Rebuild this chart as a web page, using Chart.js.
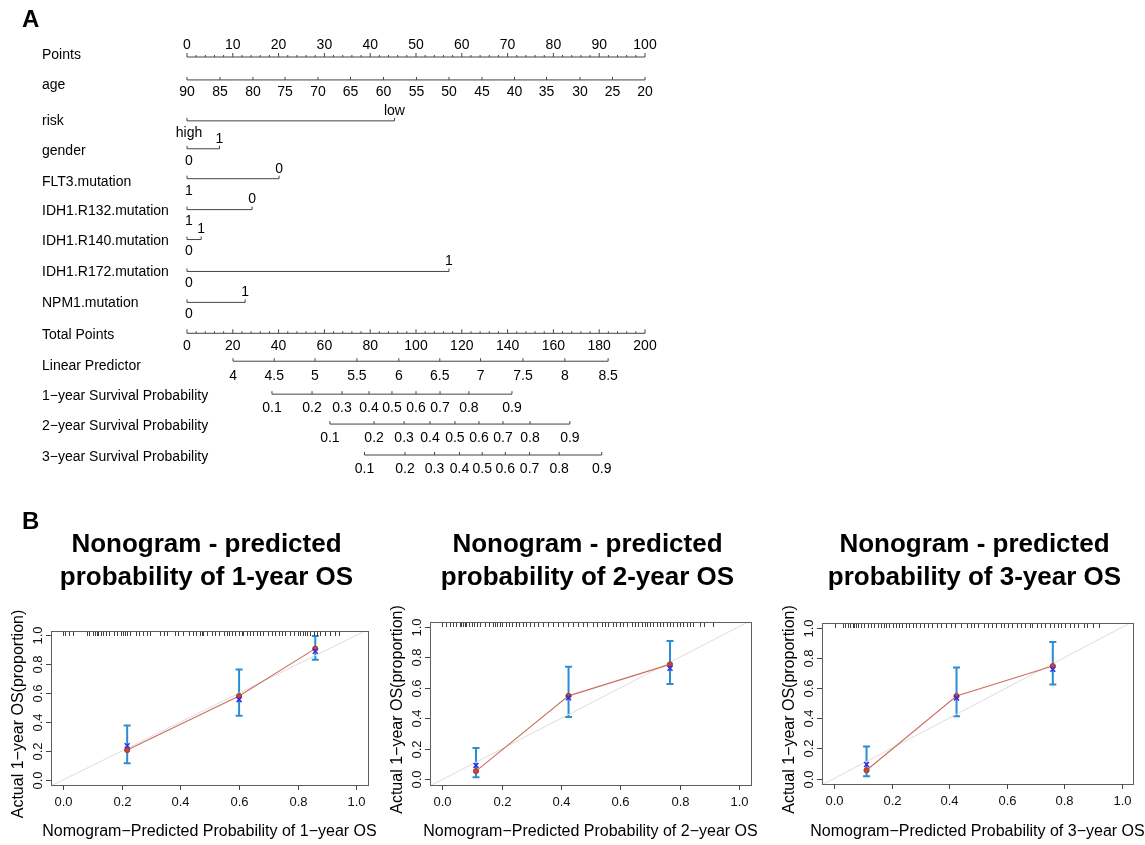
<!DOCTYPE html>
<html>
<head>
<meta charset="utf-8">
<script src="https://cdn.jsdelivr.net/npm/chart.js@4.4.1/dist/chart.umd.min.js"></script>
<style>
  html, body { margin: 0; background: #fff; }
  body { width: 1145px; height: 845px; overflow: hidden; position: relative; }
  canvas { position: absolute; }
</style>
</head>
<body>
<canvas id="nomo" width="1145" height="490" style="left:0px;top:0px"></canvas>
<canvas id="cal1" width="382" height="355" style="left:0px;top:490px"></canvas>
<canvas id="cal2" width="380" height="355" style="left:382px;top:490px"></canvas>
<canvas id="cal3" width="383" height="355" style="left:762px;top:490px"></canvas>
<script>
// ---- panel A: nomogram ----
const rowNames = ["Points", "age", "risk", "gender", "FLT3.mutation", "IDH1.R132.mutation",
  "IDH1.R140.mutation", "IDH1.R172.mutation", "NPM1.mutation", "Total Points", "Linear Predictor",
  "1\u2212year Survival Probability", "2\u2212year Survival Probability", "3\u2212year Survival Probability"];

const pointsTicks = [0, 10, 20, 30, 40, 50, 60, 70, 80, 90, 100];
const ageTicks = [90, 85, 80, 75, 70, 65, 60, 55, 50, 45, 40, 35, 30, 25, 20];
const agePoints = [0, 7.2, 14.4, 21.4, 28.6, 35.7, 42.9, 50.1, 57.2, 64.4, 71.5, 78.5, 85.8, 92.9, 100];

const riskLevels = ["high", "low"];  const riskPoints = [0, 45.3];
const genderLevels = ["0", "1"];     const genderPoints = [0, 7.1];
const flt3Levels = ["1", "0"];       const flt3Points = [0, 20.1];
const r132Levels = ["1", "0"];       const r132Points = [0, 14.2];
const r140Levels = ["0", "1"];       const r140Points = [0, 3.1];
const r172Levels = ["0", "1"];       const r172Points = [0, 57.2];
const npm1Levels = ["0", "1"];       const npm1Points = [0, 12.7];

const totalTicks = [0, 20, 40, 60, 80, 100, 120, 140, 160, 180, 200];
const lpTicks = ["4", "4.5", "5", "5.5", "6", "6.5", "7", "7.5", "8", "8.5"];
const lpTotal = [20.1, 38.1, 55.9, 74.2, 92.5, 110.4, 128.2, 146.7, 165.0, 183.9];
const survTicks = ["0.1", "0.2", "0.3", "0.4", "0.5", "0.6", "0.7", "0.8", "0.9"];
const surv1Total = [37.1, 54.6, 67.7, 79.5, 89.5, 100.0, 110.5, 123.1, 141.9];
const surv2Total = [62.4, 81.7, 94.8, 106.1, 117.0, 127.5, 138.0, 149.8, 167.2];
const surv3Total = [77.5, 95.2, 108.1, 119.0, 128.9, 139.0, 149.6, 162.5, 181.1];

// ---- panel B: calibration curves ----
const cal1Pred = [0.218, 0.600, 0.860];
const cal1Obs  = [0.206, 0.580, 0.908];
const cal1Corr = [0.236, 0.555, 0.890];
const cal1Lo   = [0.115, 0.443, 0.831];
const cal1Hi   = [0.376, 0.764, 0.995];
const cal1Rug  = [0.0, 0.006, 0.02, 0.034, 0.082, 0.089, 0.10, 0.108, 0.114, 0.12, 0.128, 0.137, 0.146,
  0.157, 0.173, 0.182, 0.196, 0.203, 0.211, 0.219, 0.228, 0.248, 0.26, 0.273, 0.285, 0.296, 0.33, 0.342,
  0.355, 0.382, 0.393, 0.41, 0.43, 0.442, 0.453, 0.465, 0.473, 0.478, 0.49, 0.507, 0.518, 0.53, 0.547,
  0.558, 0.567, 0.575, 0.587, 0.598, 0.609, 0.615, 0.627, 0.638, 0.649, 0.661, 0.672, 0.683, 0.70,
  0.712, 0.723, 0.735, 0.746, 0.757, 0.775, 0.786, 0.80, 0.809, 0.818, 0.826, 0.832, 0.843, 0.854,
  0.866, 0.877, 0.894, 0.911, 0.928, 0.94];

const cal2Pred = [0.113, 0.425, 0.767];
const cal2Obs  = [0.055, 0.547, 0.753];
const cal2Corr = [0.092, 0.534, 0.727];
const cal2Lo   = [0.015, 0.409, 0.624];
const cal2Hi   = [0.206, 0.737, 0.906];
const cal2Rug  = [0.0, 0.011, 0.025, 0.036, 0.047, 0.058, 0.064, 0.07, 0.075, 0.081, 0.09, 0.098, 0.106,
  0.115, 0.126, 0.143, 0.157, 0.169, 0.177, 0.184, 0.193, 0.202, 0.214, 0.225, 0.236, 0.247, 0.259,
  0.27, 0.281, 0.295, 0.308, 0.323, 0.34, 0.356, 0.373, 0.39, 0.407, 0.424, 0.441, 0.458, 0.475, 0.486,
  0.508, 0.522, 0.537, 0.548, 0.559, 0.574, 0.585, 0.598, 0.61, 0.623, 0.638, 0.649, 0.66, 0.672, 0.683,
  0.691, 0.70, 0.711, 0.722, 0.733, 0.745, 0.756, 0.767, 0.778, 0.79, 0.801, 0.812, 0.824, 0.835,
  0.846, 0.868, 0.88, 0.913];

const cal3Pred = [0.113, 0.426, 0.761];
const cal3Obs  = [0.055, 0.546, 0.745];
const cal3Corr = [0.093, 0.533, 0.723];
const cal3Lo   = [0.015, 0.413, 0.622];
const cal3Hi   = [0.212, 0.735, 0.905];
const cal3Rug  = [0.002, 0.031, 0.039, 0.048, 0.057, 0.066, 0.071, 0.077, 0.083, 0.092, 0.104, 0.117,
  0.129, 0.14, 0.152, 0.163, 0.173, 0.181, 0.192, 0.204, 0.215, 0.227, 0.238, 0.25, 0.261, 0.273, 0.284,
  0.299, 0.313, 0.327, 0.342, 0.359, 0.373, 0.391, 0.407, 0.422, 0.44, 0.463, 0.477, 0.488, 0.499,
  0.52, 0.535, 0.55, 0.565, 0.58, 0.59, 0.605, 0.62, 0.635, 0.65, 0.665, 0.68, 0.69, 0.705, 0.72, 0.735,
  0.75, 0.765, 0.78, 0.79, 0.805, 0.82, 0.835, 0.85, 0.87, 0.88, 0.9, 0.92];

const calTicks = [0, 0.2, 0.4, 0.6, 0.8, 1.0];
const calXRange = [-0.042, 1.04];
const calYRange = [-0.036, 1.03];

const FONT = '"Liberation Sans", Arial, Helvetica, sans-serif';

// small vertical nudges (px) of each nomogram row, style only
const lineShift = [2, -6, 4, 1, 0, 0, -1, 0, 0, 0, -3, -1, -2, -2];
const nameShift = [0, -1, 4, 3, 3, 2, 1, 1, 1, 2, 2, 1, 0, 0];

// ---------- nomogram ----------
const seg = (row, a, b, axis) => ({
  data: [{ x: a, y: rowNames[row] }, { x: b, y: rowNames[row] }],
  xAxisID: axis, showLine: true, borderColor: '#444', borderWidth: 1,
  pointRadius: 0, clip: false, shift: lineShift[row]
});

const catRows = [
  [riskLevels, riskPoints], [genderLevels, genderPoints], [flt3Levels, flt3Points],
  [r132Levels, r132Points], [r140Levels, r140Points], [r172Levels, r172Points], [npm1Levels, npm1Points]
];

const nomoDatasets = [seg(0, 0, 100, 'x'), seg(1, agePoints[0], agePoints[agePoints.length - 1], 'x')];
catRows.forEach(([lv, pts], k) => nomoDatasets.push(seg(k + 2, pts[0], pts[pts.length - 1], 'x')));
nomoDatasets.push(seg(9, totalTicks[0], totalTicks[totalTicks.length - 1], 'xt'));
nomoDatasets.push(seg(10, lpTotal[0], lpTotal[lpTotal.length - 1], 'xt'));
[surv1Total, surv2Total, surv3Total].forEach((s, k) => nomoDatasets.push(seg(11 + k, s[0], s[s.length - 1], 'xt')));

const nomoPlugin = {
  id: 'nomoAxes',
  beforeDatasetDraw(chart, args) {
    chart.ctx.save();
    chart.ctx.translate(0, chart.data.datasets[args.index].shift || 0);
  },
  afterDatasetDraw(chart) {
    chart.ctx.restore();
  },
  afterDatasetsDraw(chart) {
    const ctx = chart.ctx, xp = chart.scales.x, xt = chart.scales.xt, ys = chart.scales.y;
    const lineY = i => ys.getPixelForValue(i) + lineShift[i];
    ctx.save();
    ctx.fillStyle = '#000';
    ctx.textBaseline = 'middle';
    ctx.textAlign = 'left';
    ctx.font = 'bold 24px ' + FONT;
    ctx.fillText('A', 22, 20);
    ctx.font = '14px ' + FONT;
    rowNames.forEach((n, i) => ctx.fillText(n, 42, ys.getPixelForValue(i) + nameShift[i]));

    ctx.strokeStyle = '#444';
    ctx.lineWidth = 1;
    const tick = (px, y, len) => {
      ctx.beginPath();
      ctx.moveTo(px, y);
      ctx.lineTo(px, y - len);
      ctx.stroke();
    };
    ctx.textAlign = 'center';

    // Points
    let y = lineY(0);
    for (let v = 0; v <= 100; v += 2) tick(xp.getPixelForValue(v), y, v % 10 === 0 ? 4 : 2);
    pointsTicks.forEach(v => ctx.fillText(String(v), xp.getPixelForValue(v), y - 12));

    // age
    y = lineY(1);
    agePoints.forEach((p, i) => {
      tick(xp.getPixelForValue(p), y, 3);
      ctx.fillText(String(ageTicks[i]), xp.getPixelForValue(p), y + 12);
    });

    // categorical rows
    catRows.forEach(([lv, pts], k) => {
      const yy = lineY(k + 2);
      pts.forEach((p, j) => {
        const px = xp.getPixelForValue(p);
        tick(px, yy, 3);
        ctx.fillText(lv[j], px + (j === 0 ? 2 : 0), j === 0 ? yy + 12 : yy - 10);
      });
    });

    // Total Points
    y = lineY(9);
    for (let v = 0; v <= 200; v += 4) tick(xt.getPixelForValue(v), y, v % 20 === 0 ? 4 : 2);
    totalTicks.forEach(v => ctx.fillText(String(v), xt.getPixelForValue(v), y + 13));

    // Linear Predictor
    y = lineY(10);
    lpTotal.forEach((v, i) => {
      tick(xt.getPixelForValue(v), y, 3);
      ctx.fillText(lpTicks[i], xt.getPixelForValue(v), y + 15);
    });

    // survival probabilities
    [surv1Total, surv2Total, surv3Total].forEach((s, k) => {
      const yy = lineY(11 + k);
      s.forEach((v, i) => {
        tick(xt.getPixelForValue(v), yy, 3);
        ctx.fillText(survTicks[i], xt.getPixelForValue(v), yy + 14);
      });
    });
    ctx.restore();
  }
};

new Chart(document.getElementById('nomo').getContext('2d'), {
  type: 'scatter',
  data: { datasets: nomoDatasets },
  options: {
    responsive: false,
    animation: false,
    events: [],
    layout: { padding: { left: 187, right: 500, top: 55, bottom: 33 } },
    scales: {
      x: { type: 'linear', min: 0, max: 100, display: false },
      xt: { type: 'linear', min: 0, max: 200, display: false },
      y: { type: 'category', labels: rowNames, display: false, offset: false }
    },
    plugins: { legend: { display: false }, tooltip: { enabled: false } }
  },
  plugins: [nomoPlugin]
});

// ---------- calibration plots ----------
const calPlugin = {
  id: 'calAxes',
  beforeDatasetsDraw(chart) {
    const c = chart.options.plugins.calAxes;
    const { ctx, scales: { x, y } } = chart;
    ctx.save();
    ctx.strokeStyle = '#2b8ed3';
    ctx.lineWidth = 2;
    c.pred.forEach((p, i) => {
      const px = x.getPixelForValue(p);
      const y1 = y.getPixelForValue(c.lo[i]), y2 = y.getPixelForValue(c.hi[i]);
      ctx.beginPath();
      ctx.moveTo(px, y1); ctx.lineTo(px, y2);
      ctx.moveTo(px - 3.5, y1); ctx.lineTo(px + 3.5, y1);
      ctx.moveTo(px - 3.5, y2); ctx.lineTo(px + 3.5, y2);
      ctx.stroke();
    });
    ctx.restore();
  },
  afterDraw(chart) {
    const c = chart.options.plugins.calAxes;
    const { ctx, chartArea: a, scales: { x, y } } = chart;
    ctx.save();
    // rug of predicted risks
    ctx.strokeStyle = 'rgba(30,30,30,0.85)';
    ctx.lineWidth = 1;
    c.rug.forEach(v => {
      const px = Math.round(x.getPixelForValue(v)) + 0.5;
      ctx.beginPath(); ctx.moveTo(px, a.top); ctx.lineTo(px, a.top + 5); ctx.stroke();
    });
    // box
    ctx.strokeStyle = '#5e5e5e';
    ctx.strokeRect(Math.round(a.left) + 0.5, Math.round(a.top) + 0.5,
      Math.round(a.right - a.left), Math.round(a.bottom - a.top));
    // ticks
    ctx.strokeStyle = '#444';
    ctx.fillStyle = '#111';
    ctx.font = '13px ' + FONT;
    ctx.textAlign = 'center';
    ctx.textBaseline = 'middle';
    calTicks.forEach(v => {
      const px = Math.round(x.getPixelForValue(v)) + 0.5;
      ctx.beginPath(); ctx.moveTo(px, a.bottom); ctx.lineTo(px, a.bottom + 5); ctx.stroke();
      ctx.fillText(v.toFixed(1), px, a.bottom + 17);
      const py = Math.round(y.getPixelForValue(v)) + 0.5;
      ctx.beginPath(); ctx.moveTo(a.left, py); ctx.lineTo(a.left - 5, py); ctx.stroke();
      ctx.save();
      ctx.translate(a.left - 13, py);
      ctx.rotate(-Math.PI / 2);
      ctx.fillText(v.toFixed(1), 0, 0);
      ctx.restore();
    });
    // axis titles
    ctx.fillStyle = '#000';
    ctx.font = '16px ' + FONT;
    const cx = (a.left + a.right) / 2;
    ctx.fillText(c.xTitle, cx, 342);
    ctx.save();
    ctx.translate(a.left - 32, (a.top + a.bottom) / 2 + 6);
    ctx.rotate(-Math.PI / 2);
    ctx.fillText(c.yTitle, 0, 0);
    ctx.restore();
    // title
    ctx.font = 'bold 26px ' + FONT;
    c.title.forEach((t, i) => ctx.fillText(t, cx - 3, 55 + i * 33));
    if (c.panel) {
      ctx.font = 'bold 24px ' + FONT;
      ctx.textAlign = 'left';
      ctx.fillText(c.panel, 22, 32);
    }
    ctx.restore();
  }
};

function makeCal(id, pred, obs, corr, lo, hi, rug, year, pad, panel) {
  new Chart(document.getElementById(id).getContext('2d'), {
    type: 'scatter',
    data: {
      datasets: [
        { data: pred.map((p, i) => ({ x: p, y: corr[i] })), showLine: false, pointStyle: 'crossRot',
          pointRadius: 3.5, borderColor: '#3030e0', borderWidth: 1.5, backgroundColor: '#3030e0' },
        { data: pred.map((p, i) => ({ x: p, y: obs[i] })), showLine: true, borderColor: '#cc6e5c',
          borderWidth: 1.1, pointRadius: 2.6, pointBackgroundColor: '#c2473b', pointBorderColor: '#a83a30',
          pointBorderWidth: 1 },
        { data: [{ x: calXRange[0], y: calXRange[0] }, { x: calXRange[1], y: calXRange[1] }],
          showLine: true, borderColor: '#dcdcdc', borderWidth: 1, pointRadius: 0 }
      ]
    },
    options: {
      responsive: false,
      animation: false,
      events: [],
      layout: { padding: pad },
      scales: {
        x: { type: 'linear', min: calXRange[0], max: calXRange[1], display: false },
        y: { type: 'linear', min: calYRange[0], max: calYRange[1], display: false }
      },
      plugins: {
        legend: { display: false },
        tooltip: { enabled: false },
        calAxes: {
          pred, lo, hi, rug, panel,
          title: ['Nonogram - predicted', 'probability of ' + year + '-year OS'],
          xTitle: 'Nomogram\u2212Predicted Probability of ' + year + '\u2212year OS',
          yTitle: 'Actual 1\u2212year OS(proportion)'
        }
      }
    },
    plugins: [calPlugin]
  });
}

makeCal('cal1', cal1Pred, cal1Obs, cal1Corr, cal1Lo, cal1Hi, cal1Rug, 1,
  { left: 51, right: 14, top: 141, bottom: 60 }, 'B');
makeCal('cal2', cal2Pred, cal2Obs, cal2Corr, cal2Lo, cal2Hi, cal2Rug, 2,
  { left: 48, right: 11, top: 132, bottom: 60 }, null);
makeCal('cal3', cal3Pred, cal3Obs, cal3Corr, cal3Lo, cal3Hi, cal3Rug, 3,
  { left: 60, right: 12, top: 133, bottom: 61 }, null);
</script>
</body>
</html>
